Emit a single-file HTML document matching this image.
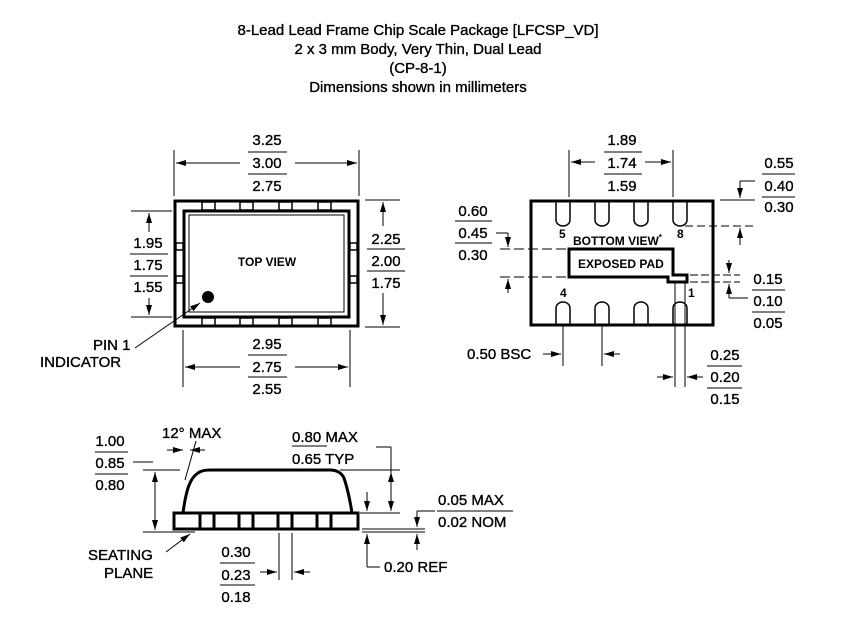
<!DOCTYPE html>
<html><head><meta charset="utf-8"><style>
html,body{margin:0;padding:0;background:#fff;}
svg{display:block;font-family:"Liberation Sans",Arial,sans-serif;}
text{font-size:15px;fill:#000;stroke:#000;stroke-width:0.35;}
.t{font-size:12px;font-weight:bold;stroke-width:0;}
</style></head><body>
<svg width="856" height="632" viewBox="0 0 856 632" xmlns="http://www.w3.org/2000/svg">
<defs>
<marker id="a" viewBox="0 0 10 6" refX="10" refY="3" markerWidth="10" markerHeight="6" markerUnits="userSpaceOnUse" orient="auto"><path d="M0,0L10,3L0,6z" fill="#000"/></marker>
</defs>
<g text-anchor="middle">
<text x="418" y="35">8-Lead Lead Frame Chip Scale Package [LFCSP_VD]</text>
<text x="418" y="54">2 x 3 mm Body, Very Thin, Dual Lead</text>
<text x="418" y="73">(CP-8-1)</text>
<text x="418" y="92">Dimensions shown in millimeters</text>
</g>

<!-- TOP VIEW -->
<g fill="none" stroke="#000">
<rect x="175" y="201" width="183" height="125" stroke-width="3"/>
<rect x="184" y="211" width="165" height="106" stroke-width="3"/>
<rect x="189" y="215" width="155" height="97" stroke-width="1"/>
<g stroke-width="1.5">
<rect x="202" y="202" width="13" height="8"/><rect x="240" y="202" width="13" height="8"/><rect x="279" y="202" width="13" height="8"/><rect x="318" y="202" width="13" height="8"/>
<rect x="202" y="318" width="13" height="8"/><rect x="240" y="318" width="13" height="8"/><rect x="279" y="318" width="13" height="8"/><rect x="318" y="318" width="13" height="8"/>
<rect x="176" y="243" width="7" height="7"/><rect x="176" y="276" width="7" height="7"/>
<rect x="350" y="243" width="7" height="7"/><rect x="350" y="276" width="7" height="7"/>
</g>
<g stroke-width="1">
<line x1="174" y1="150" x2="174" y2="196"/><line x1="359" y1="150" x2="359" y2="196"/>
<line x1="240" y1="163" x2="176" y2="163" marker-end="url(#a)"/><line x1="295" y1="163" x2="357" y2="163" marker-end="url(#a)"/>
<line x1="248" y1="152" x2="287" y2="152"/><line x1="248" y1="174" x2="287" y2="174"/>
<line x1="131" y1="211" x2="172" y2="211"/><line x1="131" y1="317" x2="172" y2="317"/>
<line x1="149" y1="232" x2="149" y2="213" marker-end="url(#a)"/><line x1="149" y1="298" x2="149" y2="315" marker-end="url(#a)"/>
<line x1="130" y1="254" x2="168" y2="254"/><line x1="130" y1="276" x2="168" y2="276"/>
<line x1="365" y1="200" x2="400" y2="200"/><line x1="365" y1="327" x2="400" y2="327"/>
<line x1="383" y1="226" x2="383" y2="202" marker-end="url(#a)"/><line x1="383" y1="293" x2="383" y2="325" marker-end="url(#a)"/>
<line x1="367" y1="249" x2="405" y2="249"/><line x1="367" y1="271" x2="405" y2="271"/>
<line x1="183" y1="330" x2="183" y2="387"/><line x1="350" y1="330" x2="350" y2="387"/>
<line x1="240" y1="367" x2="185" y2="367" marker-end="url(#a)"/><line x1="295" y1="367" x2="348" y2="367" marker-end="url(#a)"/>
<line x1="248" y1="355" x2="287" y2="355"/><line x1="248" y1="377" x2="287" y2="377"/>
<line x1="135" y1="348" x2="200" y2="303" marker-end="url(#a)"/>
</g>
</g>
<circle cx="208" cy="297" r="6" fill="#000"/>
<text class="t" x="267" y="266" text-anchor="middle">TOP VIEW</text>
<g text-anchor="middle">
<text x="267" y="145">3.25</text><text x="267" y="168">3.00</text><text x="267" y="191">2.75</text>
<text x="148" y="248">1.95</text><text x="148" y="270">1.75</text><text x="148" y="292">1.55</text>
<text x="386" y="244">2.25</text><text x="386" y="266">2.00</text><text x="386" y="288">1.75</text>
<text x="267" y="349">2.95</text><text x="267" y="372">2.75</text><text x="267" y="394">2.55</text>
</g>
<text x="93" y="350">PIN 1</text>
<text x="40" y="367">INDICATOR</text>

<!-- BOTTOM VIEW -->
<g fill="none" stroke="#000">
<rect x="531" y="201" width="182" height="124" stroke-width="3"/>
<g stroke-width="1.5">
<path d="M556,202V220a7,6 0 0 0 14,0V202"/><path d="M595,202V220a7,6 0 0 0 14,0V202"/><path d="M634,202V220a7,6 0 0 0 14,0V202"/><path d="M673,202V220a7,6 0 0 0 14,0V202"/>
<path d="M556,324V308a7,6 0 0 1 14,0V324"/><path d="M595,324V308a7,6 0 0 1 14,0V324"/><path d="M634,324V308a7,6 0 0 1 14,0V324"/><path d="M673,324V308a7,6 0 0 1 14,0V324"/>
</g>
<path d="M569,249H673V275H687V282H668V277H569Z" stroke-width="3"/>
<g stroke-width="1">
<line x1="569" y1="150" x2="569" y2="197"/><line x1="673" y1="150" x2="673" y2="197"/>
<line x1="595" y1="162" x2="571" y2="162" marker-end="url(#a)"/><line x1="645" y1="162" x2="671" y2="162" marker-end="url(#a)"/>
<line x1="604" y1="152" x2="642" y2="152"/><line x1="604" y1="174" x2="642" y2="174"/>
<line x1="720" y1="200" x2="755" y2="200"/>
<line x1="685" y1="226" x2="755" y2="226" stroke-dasharray="8,4"/>
<line x1="740" y1="181" x2="740" y2="198" marker-end="url(#a)"/><line x1="755" y1="181" x2="740" y2="181"/>
<line x1="740" y1="245" x2="740" y2="228" marker-end="url(#a)"/>
<line x1="762" y1="174" x2="795" y2="174"/><line x1="762" y1="197" x2="795" y2="197"/>
<line x1="500" y1="249" x2="569" y2="249" stroke-dasharray="10,4"/>
<line x1="500" y1="277" x2="569" y2="277" stroke-dasharray="10,4"/>
<line x1="496" y1="233" x2="508" y2="233"/><line x1="508" y1="233" x2="508" y2="247" marker-end="url(#a)"/>
<line x1="508" y1="293" x2="508" y2="279" marker-end="url(#a)"/>
<line x1="455" y1="221" x2="492" y2="221"/><line x1="455" y1="243" x2="492" y2="243"/>
<line x1="690" y1="275" x2="740" y2="275" stroke-dasharray="8,3"/>
<line x1="690" y1="282" x2="740" y2="282" stroke-dasharray="8,3"/>
<line x1="729" y1="260" x2="729" y2="273" marker-end="url(#a)"/>
<line x1="729" y1="298" x2="729" y2="284" marker-end="url(#a)"/><line x1="729" y1="298" x2="748" y2="298"/>
<line x1="752" y1="290" x2="785" y2="290"/><line x1="752" y1="312" x2="785" y2="312"/>
<line x1="563" y1="326" x2="563" y2="366"/><line x1="602" y1="326" x2="602" y2="366"/>
<line x1="543" y1="354" x2="561" y2="354" marker-end="url(#a)"/><line x1="620" y1="354" x2="604" y2="354" marker-end="url(#a)"/>
<line x1="675" y1="282" x2="675" y2="387"/><line x1="685" y1="282" x2="685" y2="387"/>
<line x1="657" y1="377" x2="673" y2="377" marker-end="url(#a)"/><line x1="703" y1="377" x2="687" y2="377" marker-end="url(#a)"/>
<line x1="707" y1="366" x2="742" y2="366"/><line x1="707" y1="388" x2="742" y2="388"/>
</g>
</g>
<text class="t" x="573" y="245">BOTTOM VIEW<tspan font-size="8" dy="-5">*</tspan></text>
<text class="t" x="578" y="268">EXPOSED PAD</text>
<text class="t" x="559" y="238">5</text><text class="t" x="677" y="238">8</text>
<text class="t" x="560" y="297">4</text><text class="t" x="688" y="297">1</text>
<g text-anchor="middle">
<text x="622" y="145">1.89</text><text x="622" y="168">1.74</text><text x="622" y="191">1.59</text>
<text x="779" y="168">0.55</text><text x="779" y="191">0.40</text><text x="779" y="212">0.30</text>
<text x="473" y="216">0.60</text><text x="473" y="238">0.45</text><text x="473" y="260">0.30</text>
<text x="768" y="284">0.15</text><text x="768" y="306">0.10</text><text x="768" y="328">0.05</text>
<text x="725" y="360">0.25</text><text x="725" y="382">0.20</text><text x="725" y="404">0.15</text>
</g>
<text x="467" y="359">0.50 BSC</text>

<!-- SIDE VIEW -->
<g fill="none" stroke="#000">
<path d="M183,513C186,490 190,478 198,473Q202,470 210,470H330Q340,470 344,478C348,490 350,500 352,513" stroke-width="3"/>
<rect x="174" y="513" width="184" height="16" stroke-width="3"/>
<g stroke-width="3"><line x1="200" y1="513" x2="200" y2="529"/><line x1="214" y1="513" x2="214" y2="529"/>
<line x1="239" y1="513" x2="239" y2="529"/><line x1="253" y1="513" x2="253" y2="529"/>
<line x1="278" y1="513" x2="278" y2="529"/><line x1="292" y1="513" x2="292" y2="529"/>
<line x1="317" y1="513" x2="317" y2="529"/><line x1="331" y1="513" x2="331" y2="529"/></g>
<g stroke-width="1">
<line x1="143" y1="532" x2="195" y2="532"/>
<line x1="133" y1="462" x2="153" y2="462"/>
<line x1="143" y1="470" x2="180" y2="470"/>
<line x1="155" y1="500" x2="155" y2="472" marker-end="url(#a)"/><line x1="155" y1="500" x2="155" y2="530" marker-end="url(#a)"/>
<line x1="95" y1="452" x2="128" y2="452"/><line x1="95" y1="474" x2="128" y2="474"/>
<line x1="167" y1="450" x2="183" y2="450" marker-end="url(#a)"/><line x1="205" y1="450" x2="190" y2="450" marker-end="url(#a)"/>
<line x1="185" y1="480" x2="196" y2="441"/>
<line x1="292" y1="446" x2="327" y2="446"/>
<line x1="340" y1="470" x2="400" y2="470"/><line x1="376" y1="447" x2="391" y2="447"/>
<line x1="391" y1="447" x2="391" y2="490"/>
<line x1="391" y1="490" x2="391" y2="472" marker-end="url(#a)"/><line x1="391" y1="490" x2="391" y2="511" marker-end="url(#a)"/>
<line x1="360" y1="513" x2="400" y2="513"/>
<line x1="367" y1="492" x2="367" y2="511" marker-end="url(#a)"/>
<line x1="362" y1="529" x2="425" y2="529"/><line x1="362" y1="532" x2="425" y2="532"/>
<line x1="417" y1="511" x2="417" y2="527" marker-end="url(#a)"/><line x1="417" y1="511" x2="435" y2="511"/>
<line x1="417" y1="550" x2="417" y2="534" marker-end="url(#a)"/>
<line x1="437" y1="511" x2="513" y2="511"/>
<line x1="367" y1="567" x2="367" y2="534" marker-end="url(#a)"/><line x1="367" y1="567" x2="380" y2="567"/>
<line x1="279" y1="533" x2="279" y2="580"/><line x1="292" y1="533" x2="292" y2="580"/>
<line x1="260" y1="572" x2="277" y2="572" marker-end="url(#a)"/><line x1="310" y1="572" x2="294" y2="572" marker-end="url(#a)"/>
<line x1="220" y1="563" x2="255" y2="563"/><line x1="220" y1="585" x2="255" y2="585"/>
<line x1="166" y1="552" x2="190" y2="534" marker-end="url(#a)"/>
</g>
</g>
<g text-anchor="middle">
<text x="110" y="446">1.00</text><text x="110" y="468">0.85</text><text x="110" y="490">0.80</text>
<text x="236" y="557">0.30</text><text x="236" y="580">0.23</text><text x="236" y="602">0.18</text>
</g>
<text x="162" y="438">12° MAX</text>
<text x="292" y="442">0.80 MAX</text>
<text x="292" y="464">0.65 TYP</text>
<text x="438" y="505">0.05 MAX</text>
<text x="438" y="527">0.02 NOM</text>
<text x="384" y="572">0.20 REF</text>
<text x="88" y="560">SEATING</text>
<text x="104" y="578">PLANE</text>
</svg>
</body></html>
